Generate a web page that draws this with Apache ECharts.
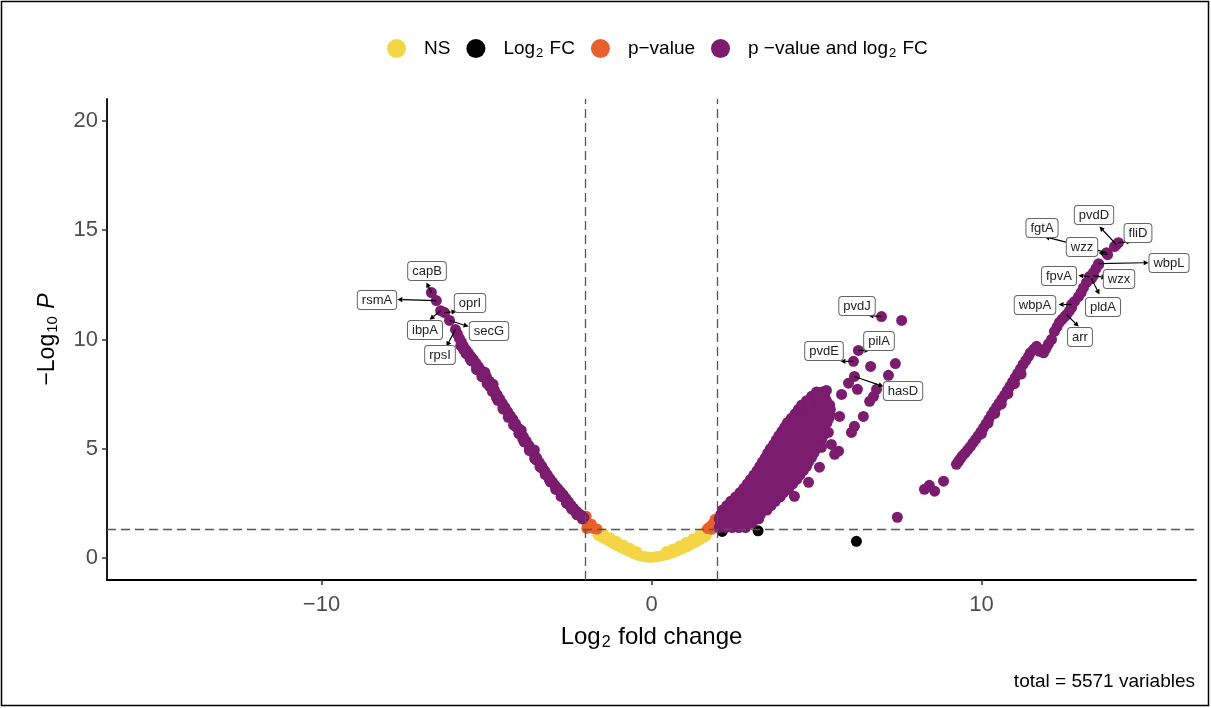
<!DOCTYPE html>
<html><head><meta charset="utf-8">
<script src="https://cdn.jsdelivr.net/npm/echarts@6/dist/echarts.min.js"></script>
<style>html,body{margin:0;padding:0;background:#fff}#c{width:1211px;height:708px}</style>
</head><body><div id="c"></div><script>
// ---------------- DATA ----------------
const xTicks = [-10, 0, 10];
const yTicks = [0, 5, 10, 15, 20];
const fcCut = 2;
const pCut = 1.30103; // -log10(0.05)

// NS (yellow)
const nsPts = [
 [-1.62,1.05],[-1.52,0.97],[-1.42,0.89],[-1.32,0.81],[-1.22,0.72],[-1.12,0.63],[-1.02,0.55],[-0.92,0.48],
 [-0.82,0.41],[-0.72,0.34],[-0.62,0.27],[-0.52,0.20],[-0.42,0.14],[-0.32,0.10],[-0.22,0.07],[-0.12,0.05],
 [-0.02,0.04],[0.08,0.05],[0.18,0.07],[0.28,0.10],[0.38,0.13],[0.48,0.17],[0.58,0.22],[0.68,0.27],
 [0.78,0.33],[0.88,0.39],[0.98,0.46],[1.08,0.53],[1.18,0.61],[1.28,0.69],[1.38,0.77],[1.48,0.86],
 [1.58,0.95],[1.66,1.03],
 [-1.62,1.25],[-1.45,1.10],[-1.25,0.93],[-1.05,0.76],[-0.85,0.60],[-0.65,0.45],[-0.45,0.30],
 [0.45,0.30],[0.65,0.42],[0.85,0.56],[1.05,0.72],[1.25,0.88],[1.45,1.05],[1.62,1.22]
];
// Log2 FC only (black)
const fcPts = [[2.14,1.22],[3.23,1.25],[6.21,0.77]];
// p-value only (orange)
const pvPts = [
 [-1.98,1.92],[-1.96,1.62],[-1.90,1.40],[-1.82,1.55],[-1.75,1.36],[-1.65,1.33],[-1.96,1.36],
 [1.70,1.35],[1.78,1.45],[1.86,1.58],[1.93,1.78],[1.93,1.42],[1.82,1.32]
];
// p-value and log2 FC (purple): left arm
const leftArm = [
 [-6.67,12.15],[-6.52,11.78],[-6.39,11.32],[-6.27,11.23],[-6.12,10.87],[-5.94,10.46],[-5.88,10.25],[-5.82,10.05],
 [-5.76,9.88],[-5.70,9.70],[-5.62,9.52],[-5.55,9.38],[-5.47,9.22],[-5.40,9.08],[-5.32,8.92],[-5.24,8.75],
 [-5.16,8.58],[-5.08,8.42],[-5.00,8.28],[-4.92,8.10],[-4.84,7.90],[-4.76,7.68],[-4.68,7.48],[-4.60,7.28],
 [-4.52,7.08],[-4.44,6.90],[-4.36,6.70],[-4.28,6.52],[-4.20,6.35],[-4.12,6.15],[-4.04,5.95],[-3.96,5.75],
 [-3.88,5.55],[-3.80,5.36],[-3.72,5.16],[-3.64,4.98],[-3.56,4.78],[-3.48,4.58],[-3.40,4.38],[-3.32,4.20],
 [-3.24,4.00],[-3.16,3.82],[-3.08,3.64],[-3.00,3.48],[-2.92,3.32],[-2.84,3.18],[-2.76,3.04],[-2.68,2.90],
 [-2.60,2.74],[-2.52,2.58],[-2.44,2.42],[-2.36,2.28],[-2.28,2.15],[-2.20,2.04],[-2.12,1.95],[-2.05,1.86],
 [-5.70,9.55],[-5.50,9.12],[-5.30,8.70],[-5.10,8.28],[-4.90,7.85],[-4.70,7.35],[-4.50,6.92],[-4.30,6.45],
 [-4.10,6.00],[-3.90,5.45],[-3.70,5.00],[-3.50,4.50],[-3.30,4.08],[-3.10,3.60],[-2.90,3.20],[-2.70,2.85],
 [-2.50,2.45],[-2.30,2.12],[-2.10,1.80],[-3.55,4.95],[-3.95,5.85],[-4.80,7.95],[-5.05,8.50],
 [-5.78,9.72],[-5.62,9.36],[-5.46,9.02],[-5.30,8.62],[-5.14,8.30],[-4.98,7.98],[-4.82,7.62],[-4.66,7.22],
 [-4.50,6.82],[-4.34,6.44],[-4.18,6.08],[-4.02,5.70],[-3.86,5.32],[-3.70,4.92],[-3.54,4.55],[-3.38,4.18],
 [-3.22,3.82],[-3.06,3.48],[-2.90,3.14],[-2.74,2.82],[-2.58,2.52],[-2.42,2.24],[-2.26,1.98]
];
// purple: dense middle cluster, rows of (y, x values)
const clusterRowY = [1.40,1.60,1.80,2.00,2.20,2.40,2.60,2.80,3.00,3.20,3.40,3.60,3.80,4.00,4.20,4.40,
                     4.60,4.80,5.00,5.20,5.40,5.60,5.80,6.00,6.20,6.40,6.60,6.80,7.00,7.20,7.40,7.60];
const clusterRowX = [
 [2.05,2.25,2.45,2.65,2.85],
 [2.10,2.30,2.50,2.70,2.90,3.05],
 [2.05,2.25,2.45,2.65,2.85,3.05,3.25],
 [2.10,2.30,2.50,2.70,2.90,3.10,3.30],
 [2.15,2.35,2.55,2.75,2.95,3.15,3.35,3.50],
 [2.28,2.48,2.68,2.88,3.08,3.28,3.48,3.62],
 [2.40,2.60,2.80,3.00,3.20,3.40,3.60,3.75],
 [2.55,2.75,2.95,3.15,3.35,3.55,3.75,3.90],
 [2.68,2.88,3.08,3.28,3.48,3.68,3.88,4.00],
 [2.80,3.00,3.20,3.40,3.60,3.80,4.00,4.15],
 [2.90,3.10,3.30,3.50,3.70,3.90,4.10,4.28],
 [3.00,3.20,3.40,3.60,3.80,4.00,4.20,4.40],
 [3.10,3.30,3.50,3.70,3.90,4.10,4.30,4.50],
 [3.20,3.40,3.60,3.80,4.00,4.20,4.40,4.60],
 [3.28,3.48,3.68,3.88,4.08,4.28,4.48,4.70],
 [3.36,3.56,3.76,3.96,4.16,4.36,4.56,4.76],
 [3.45,3.65,3.85,4.05,4.25,4.45,4.65,4.85],
 [3.52,3.72,3.92,4.12,4.32,4.52,4.72,4.92],
 [3.60,3.80,4.00,4.20,4.40,4.60,4.80,5.00],
 [3.70,3.90,4.10,4.30,4.50,4.70,4.90,5.08],
 [3.78,3.98,4.18,4.38,4.58,4.78,4.98,5.15],
 [3.86,4.06,4.26,4.46,4.66,4.86,5.06,5.20],
 [3.95,4.15,4.35,4.55,4.75,4.95,5.15,5.25],
 [4.04,4.24,4.44,4.64,4.84,5.04,5.24],
 [4.12,4.32,4.52,4.72,4.92,5.12,5.32],
 [4.24,4.44,4.64,4.84,5.04,5.24,5.38],
 [4.35,4.55,4.75,4.95,5.15,5.40],
 [4.45,4.65,4.85,5.05,5.25,5.42],
 [4.55,4.75,4.95,5.15,5.40],
 [4.70,4.90,5.10,5.30],
 [4.85,5.05,5.25],
 [5.00,5.18]
];
// purple: scattered points around the middle cluster
const midOutliers = [
 [6.97,11.05],[7.58,10.87],[6.27,9.50],[6.12,9.00],[6.64,8.77],[7.39,8.90],[7.18,8.36],[6.15,8.31],
 [5.97,8.00],[6.24,7.72],[5.30,7.67],[5.06,7.52],[5.76,7.49],[6.82,7.72],[6.73,7.40],[6.61,7.17],
 [5.70,6.48],[6.42,6.48],[6.15,6.03],[6.06,5.75],[5.36,5.75],[5.67,4.89],[5.55,4.75],[5.09,4.16],
 [4.76,3.47],[4.33,2.83],[3.85,2.83],[4.15,3.15],[5.15,5.07],[5.45,5.20],[3.27,2.10],[4.76,7.03],
 [4.12,6.07],[7.45,1.87],[8.27,3.15],[8.42,3.33],[8.58,3.06],[8.85,3.52]
];
// purple: right arm
const rightArm = [
 [9.24,4.29],[9.30,4.42],[9.36,4.55],[9.42,4.68],[9.50,4.80],[9.58,4.95],[9.66,5.10],[9.74,5.27],
 [9.82,5.43],[9.90,5.60],[9.98,5.78],[10.06,5.96],[10.14,6.15],[10.22,6.35],[10.30,6.55],[10.38,6.74],
 [10.46,6.92],[10.54,7.10],[10.62,7.28],[10.70,7.46],[10.78,7.66],[10.86,7.86],[10.94,8.06],[11.02,8.26],
 [11.10,8.46],[11.18,8.66],[11.26,8.86],[11.34,9.04],[11.42,9.22],[11.48,9.39],[11.58,9.55],[11.67,9.69],
 [11.76,9.46],[11.88,9.39],[11.96,9.60],[12.03,9.80],[12.12,10.00],[12.21,10.37],[12.29,10.58],[12.36,10.78],
 [12.44,10.92],[12.52,11.05],[12.58,11.14],[12.66,11.30],[12.73,11.46],[12.73,11.60],[12.82,11.74],[12.94,11.96],
 [13.02,12.15],[13.09,12.37],[13.18,12.60],[13.27,12.88],[13.33,12.79],[13.39,12.92],[13.39,13.06],[13.47,13.25],
 [13.55,13.42],[13.55,13.47],[13.79,13.97],[13.82,13.88],[14.03,14.25],[14.09,14.34],[14.15,14.43],
 [10.00,5.70],[10.20,6.18],[10.40,6.62],[10.60,7.05],[10.80,7.52],[11.00,7.98],[11.20,8.42]
];
// labelled genes and their points
const labelGenes = ['capB','rsmA','oprI','ibpA','secG','rpsI','pvdJ','pilA','pvdE','hasD',
                    'pvdD','fliD','fgtA','wzz','wbpL','fpvA','wzx','pldA','wbpA','arr'];
const labelX = [-6.67,-6.52,-6.27,-6.39,-6.12,-5.94,6.97,6.27,6.12,6.15,
                14.09,14.15,13.79,13.82,13.55,13.27,13.39,13.33,12.73,12.58];
const labelY = [12.15,11.78,11.23,11.32,10.87,10.46,11.05,9.50,9.00,8.31,
                14.34,14.43,13.97,13.88,13.47,12.88,12.92,12.79,11.60,11.14];
const totalText = 'total = 5571 variables';

// ---------------- LAYOUT (pixel offsets of label boxes / arrow ends) ----------------
const labelLayout = {
 capB:{bx:-4,by:-21,ex:-5,ey:-10}, rsmA:{bx:-59,by:-1,ex:-39,ey:-1}, oprI:{bx:25,by:-10,ex:12,ey:-1},
 ibpA:{bx:-16,by:19,ex:-11,ey:9}, secG:{bx:39,by:11,ex:19,ey:6}, rpsI:{bx:-15,by:26,ex:-9,ey:17},
 pvdJ:{bx:-25,by:-11,ex:-13,ey:-1}, pilA:{bx:21,by:-9,ex:11,ey:0}, pvdE:{bx:-29,by:-10,ex:-13,ey:0},
 hasD:{bx:49,by:15,ex:29,ey:10}, pvdD:{bx:-22,by:-30,ex:-17,ey:-18}, fliD:{bx:20,by:-10,ex:13,ey:-1},
 fgtA:{bx:-65,by:-25,ex:-62,ey:-16}, wzz:{bx:-26,by:-8,ex:-9,ey:-2}, wbpL:{bx:70,by:-1,ex:50,ey:-1},
 fpvA:{bx:-30,by:-1,ex:-11,ey:-1}, wzx:{bx:26,by:3,ex:13,ey:2}, pldA:{bx:12,by:28,ex:8,ey:16},
 wbpA:{bx:-37,by:0,ex:-13,ey:0}, arr:{bx:13,by:22,ex:12,ey:12}
};

const FONT = 'Liberation Sans, Arial, Helvetica, sans-serif';
const YEL = '#F4D546', ORG = '#E8602C', PUR = '#7B1C6E', BLK = '#000000';
const DOT = 11;

const clusterPts = [];
clusterRowY.forEach((y, r) => clusterRowX[r].forEach(x => clusterPts.push([x, y])));
const purplePts = leftArm.concat(clusterPts, midOutliers, rightArm);
const labelData = labelGenes.map((g, i) => [labelX[i], labelY[i]]);

const chart = echarts.init(document.getElementById('c'), null, {renderer: 'canvas'});
const minus = v => (v < 0 ? '\u2212' + Math.abs(v) : String(v));

const option = {
 animation: false,
 backgroundColor: '#fff',
 textStyle: {fontFamily: FONT},
 grid: {left: 107, right: 15, top: 99, bottom: 128, containLabel: false},
 legend: {
  data: ['NS', 'Log2 FC', 'p\u2212value', 'p \u2212value and log2 FC'],
  left: 382, top: 34, icon: 'circle', itemWidth: 19, itemHeight: 19, itemGap: 16,
  selectedMode: false,
  textStyle: {fontSize: 19, color: '#000', fontFamily: FONT, padding: [0, 0, 0, 13],
   rich: {a: {fontSize: 19, color: '#000', fontFamily: FONT},
          s: {fontSize: 13, color: '#000', fontFamily: FONT, padding: [9, 1, 0, 1]}}},
  formatter: function (name) {
   if (name === 'Log2 FC') return '{a|Log}{s|2}{a| FC}';
   if (name === 'p \u2212value and log2 FC') return '{a|p \u2212value and log}{s|2}{a| FC}';
   return '{a|' + name + '}';
  }
 },
 xAxis: {
  type: 'value', min: -16.5, max: 16.5,
  axisLine: {show: true, onZero: false, lineStyle: {color: '#000', width: 1.8}},
  axisTick: {show: true, customValues: xTicks, length: 5, lineStyle: {color: '#333', width: 1.5}},
  axisLabel: {customValues: xTicks, fontSize: 22, color: '#4d4d4d', margin: 14, fontFamily: FONT, formatter: minus},
  splitLine: {show: false},
  name: '{a|Log}{s|2}{a| fold change}', nameLocation: 'middle', nameGap: 44,
  nameTextStyle: {rich: {a: {fontSize: 24, color: '#000', fontFamily: FONT},
                         s: {fontSize: 16, color: '#000', fontFamily: FONT, padding: [11, 1, 0, 1]}}}
 },
 yAxis: {
  type: 'value', min: -1, max: 21,
  axisLine: {show: true, onZero: false, lineStyle: {color: '#000', width: 1.8}},
  axisTick: {show: true, customValues: yTicks, length: 5, lineStyle: {color: '#333', width: 1.5}},
  axisLabel: {customValues: yTicks, fontSize: 22, color: '#4d4d4d', margin: 9, fontFamily: FONT},
  splitLine: {show: false},
  name: '{a|\u2212Log}{s|10}{i| P}', nameLocation: 'middle', nameGap: 47, nameRotate: 90,
  nameTextStyle: {rich: {a: {fontSize: 23, color: '#000', fontFamily: FONT},
                         s: {fontSize: 15, color: '#000', fontFamily: FONT, padding: [10, 1, 0, 1]},
                         i: {fontSize: 23, color: '#000', fontFamily: FONT, fontStyle: 'italic'}}}
 },
 series: [
  {name: 'NS', type: 'scatter', data: nsPts, symbolSize: DOT, itemStyle: {color: YEL, opacity: 1}, z: 2,
   markLine: {silent: true, symbol: 'none', label: {show: false}, z: 3,
    lineStyle: {color: '#555', type: [9, 5], width: 1.3},
    data: [{xAxis: -fcCut}, {xAxis: fcCut}, {yAxis: pCut}]}},
  {name: 'Log2 FC', type: 'scatter', data: fcPts, symbolSize: DOT, itemStyle: {color: BLK, opacity: 1}, z: 2},
  {name: 'p\u2212value', type: 'scatter', data: pvPts, symbolSize: DOT, itemStyle: {color: ORG, opacity: 1}, z: 2},
  {name: 'p \u2212value and log2 FC', type: 'scatter', data: purplePts, symbolSize: DOT, itemStyle: {color: PUR, opacity: 1}, z: 2},
  {name: 'arrows', type: 'custom', data: labelData, z: 5, silent: true,
   renderItem: function (params, api) {
    const g = labelGenes[params.dataIndex];
    const L = labelLayout[g];
    const p = api.coord([api.value(0), api.value(1)]);
    const ex = p[0] + L.ex, ey = p[1] + L.ey;
    const dx = ex - p[0], dy = ey - p[1];
    const len = Math.hypot(dx, dy) || 1;
    const ux = dx / len, uy = dy / len, ah = 5, aw = 2.6;
    const bx = ex - ux * ah, by = ey - uy * ah;
    return {type: 'group', children: [
     {type: 'line', shape: {x1: p[0], y1: p[1], x2: bx, y2: by}, style: {stroke: '#000', lineWidth: 1.2}},
     {type: 'polygon', shape: {points: [[ex, ey], [bx - uy * aw, by + ux * aw], [bx + uy * aw, by - ux * aw]]}, style: {fill: '#000'}}
    ]};
   }},
  {name: 'labels', type: 'custom', data: labelData, z: 6, silent: true,
   renderItem: function (params, api) {
    const g = labelGenes[params.dataIndex];
    const L = labelLayout[g];
    const p = api.coord([api.value(0), api.value(1)]);
    return {type: 'text', x: Math.round(p[0] + L.bx), y: Math.round(p[1] + L.by),
     style: {text: g, fontSize: 13, fontFamily: FONT, fill: '#222', align: 'center', verticalAlign: 'middle',
      backgroundColor: '#fff', borderColor: '#666', borderWidth: 1, borderRadius: 3, padding: [3, 4, 2, 4]}};
   }}
 ],
 graphic: [
  {type: 'rect', shape: {x: 1.5, y: 1.5, width: 1207, height: 704}, style: {fill: 'none', stroke: '#000', lineWidth: 1.5}, silent: true},
  {type: 'text', right: 16, top: 672, style: {text: totalText, fontSize: 19, fontFamily: FONT, fill: '#000'}, silent: true}
 ]
};
chart.setOption(option);
</script></body></html>
